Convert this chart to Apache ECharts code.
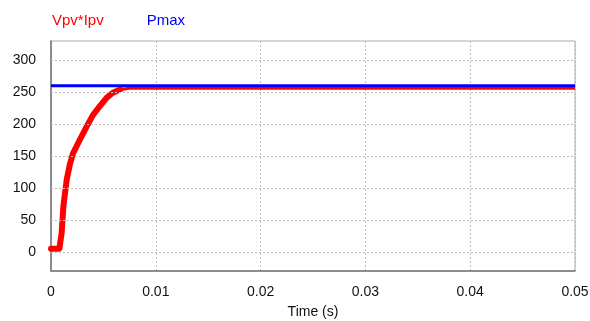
<!DOCTYPE html>
<html><head><meta charset="utf-8">
<script src="https://cdn.jsdelivr.net/npm/echarts@6/dist/echarts.min.js"></script>
<style>html,body{margin:0;padding:0;background:#fff}#c{width:590px;height:321px}</style>
</head><body><div id="c"></div>
<script>
const timeS = [0, 0.0008, 0.00092, 0.00102, 0.00118, 0.0015, 0.0018, 0.0021, 0.0028, 0.0034, 0.0040, 0.0047, 0.0053, 0.0059, 0.0066, 0.0075, 0.0085, 0.05];
const pvPower = [5, 5, 8, 30, 71, 113, 137, 154, 177, 196, 214, 229, 241, 249, 254, 256, 256, 256];
const pmaxTime = [0, 0.05];
const pmaxValue = [260, 260];
const xTicks = [0, 0.01, 0.02, 0.03, 0.04, 0.05];
const yTicks = [0, 50, 100, 150, 200, 250, 300];

const chart = echarts.init(document.getElementById('c'));
const font = 'Liberation Sans, Arial, sans-serif';
const pvPts = timeS.map((t, i) => [t, pvPower[i]]);
const transientEnd = 14; // index up to which ripple band is wide
chart.setOption({
  animation: false,
  legend: {
    left: 42, top: 8, itemWidth: 0, itemHeight: 0, itemGap: 38, icon: 'rect',
    data: [
      {name: 'Vpv*Ipv', textStyle: {color: '#ff0000'}},
      {name: 'Pmax', textStyle: {color: '#0000ff'}}
    ],
    textStyle: {fontSize: 15, fontFamily: font}
  },
  grid: {left: 51, right: 15, top: 41, bottom: 50, show: true, borderColor: '#aaa', borderWidth: 1,
         containLabel: false, outerBoundsMode: 'none'},
  xAxis: {
    type: 'value', min: 0, max: 0.05, interval: 0.01,
    name: 'Time (s)', nameLocation: 'middle', nameGap: 34,
    nameTextStyle: {fontSize: 14, fontFamily: font, color: '#111'},
    axisLine: {show: true, onZero: false, lineStyle: {color: '#777', width: 1.5}},
    axisTick: {show: false},
    axisLabel: {fontSize: 14, fontFamily: font, color: '#111', margin: 14,
      formatter: v => String(+v.toFixed(3))},
    splitLine: {show: true, lineStyle: {color: '#bbb', type: [2, 2]}}
  },
  yAxis: {
    type: 'value', min: -30, max: 330, interval: 10,
    axisLine: {show: true, onZero: false, lineStyle: {color: '#777', width: 1.5}},
    axisTick: {show: false},
    axisLabel: {fontSize: 14, fontFamily: font, color: '#111', margin: 15,
      formatter: v => yTicks.includes(Math.round(v)) ? String(Math.round(v)) : ''},
    splitLine: {show: false}
  },
  series: [
    {name: 'grid', type: 'line', data: [], silent: true,
     markLine: {silent: true, symbol: 'none', label: {show: false},
       lineStyle: {color: '#bbb', type: [2, 2], width: 1},
       data: yTicks.map(v => ({yAxis: v}))}},
    {name: 'Vpv*Ipv', type: 'line', showSymbol: false,
     data: pvPts,
     lineStyle: {color: '#ff0000', width: 3}, itemStyle: {color: '#ff0000'}, z: 2},
    {name: 'Vpv*Ipv ripple', type: 'line', showSymbol: false,
     data: pvPts.slice(0, transientEnd + 1),
     lineStyle: {color: '#ff0000', width: 6, cap: 'round', join: 'round'}, itemStyle: {color: '#ff0000'}, z: 2},
    {name: 'Pmax', type: 'line', showSymbol: false,
     data: pmaxTime.map((t, i) => [t, pmaxValue[i]]),
     lineStyle: {color: '#0000ff', width: 3}, itemStyle: {color: '#0000ff'}, z: 3}
  ]
});
</script></body></html>
